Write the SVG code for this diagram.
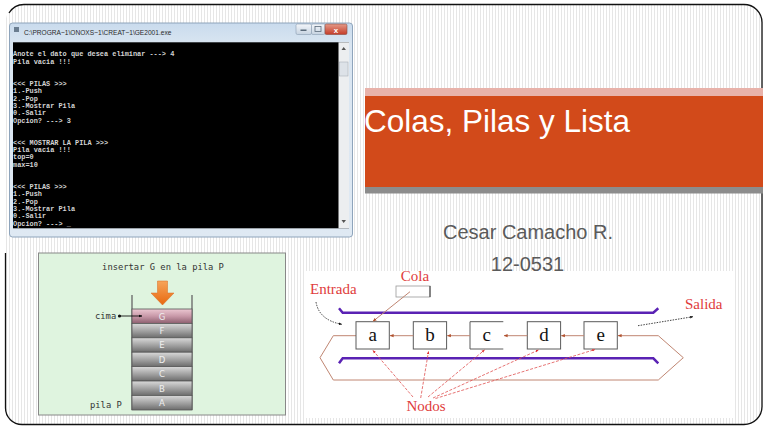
<svg xmlns="http://www.w3.org/2000/svg" width="768" height="432" viewBox="0 0 768 432">
<defs>
<pattern id="stripes" width="3" height="12" patternUnits="userSpaceOnUse"><rect width="3" height="12" fill="#ffffff"/><rect x="0" width="1" height="12" fill="#e6e6e6"/></pattern>
<linearGradient id="winFrame" x1="0" y1="0" x2="0" y2="1"><stop offset="0" stop-color="#c9dbed"/><stop offset="0.1" stop-color="#d9e5f1"/><stop offset="1" stop-color="#dfe9f3"/></linearGradient>
<linearGradient id="closeG" x1="0" y1="0" x2="0" y2="1"><stop offset="0" stop-color="#e59a88"/><stop offset="1" stop-color="#c43c28"/></linearGradient>
<linearGradient id="btnG" x1="0" y1="0" x2="0" y2="1"><stop offset="0" stop-color="#f3f6fa"/><stop offset="1" stop-color="#c6d3e1"/></linearGradient>
<linearGradient id="boxG" x1="0" y1="0" x2="0" y2="1"><stop offset="0" stop-color="#dadada"/><stop offset="0.5" stop-color="#a4a4a4"/><stop offset="1" stop-color="#6c6c6c"/></linearGradient>
<linearGradient id="boxPink" x1="0" y1="0" x2="0" y2="1"><stop offset="0" stop-color="#ecc8d2"/><stop offset="0.5" stop-color="#c898a8"/><stop offset="1" stop-color="#8e6070"/></linearGradient>
<linearGradient id="orangeG" x1="0" y1="0" x2="0" y2="1"><stop offset="0" stop-color="#f6a45a"/><stop offset="1" stop-color="#e8680f"/></linearGradient>
<marker id="mBrown" viewBox="0 0 10 10" refX="9" refY="5" markerWidth="4" markerHeight="4" orient="auto"><path d="M0,1 L10,5 L0,9 z" fill="#b0502c"/></marker>
<marker id="mRed" viewBox="0 0 10 10" refX="9" refY="5" markerWidth="4" markerHeight="4" orient="auto"><path d="M0,1 L10,5 L0,9 z" fill="#e03030"/></marker>
<marker id="mBlack" viewBox="0 0 10 10" refX="9" refY="5" markerWidth="4" markerHeight="4" orient="auto"><path d="M0,1 L10,5 L0,9 z" fill="#111"/></marker>
</defs>
<style>
.con{font-family:"Liberation Mono","DejaVu Sans Mono",monospace;font-weight:bold;font-size:6.9px;fill:#d4d4d4}
.red{font-family:"Liberation Serif",serif;font-size:15px;fill:#e03c3c}
.box{fill:#fff;stroke:#5a5a5a;stroke-width:1}
.lt{font-family:"Liberation Serif",serif;font-size:19px;fill:#111;text-anchor:middle}
.brown{stroke:#c08672;stroke-width:1;fill:none}
.nod{stroke:#e05050;stroke-width:0.8;stroke-dasharray:3 1.5;fill:none}
.purple{stroke:#5a22b4;stroke-width:2.5;fill:none}
.sl{font-family:"DejaVu Sans Mono","Liberation Mono",monospace;font-size:8.8px;fill:#333}
.sk{fill:url(#boxG);stroke:#555;stroke-width:0.8}
.skt{font-family:"DejaVu Sans",sans-serif;font-size:8.5px;fill:#efefef;text-anchor:middle}
</style>

<rect width="768" height="432" fill="#ffffff"/>
<rect x="5.5" y="4.5" width="757" height="420" rx="18" fill="url(#stripes)"/>
<path d="M5.5 253 V408 A16.5 16.5 0 0 0 22 424.5 H744 A18 18 0 0 0 762 406.5 V22.5 A18 18 0 0 0 744 4.5 H24 A18 18 0 0 0 9 13" fill="none" stroke="#111" stroke-width="1.3"/>

<g id="console">
<rect x="9.5" y="23" width="343" height="214" rx="3" fill="url(#winFrame)" stroke="#8ea4bb" stroke-width="1"/>
<rect x="14" y="27" width="5" height="5" fill="#6a7d90"/>
<text x="24" y="34.5" font-family="Liberation Sans, sans-serif" font-size="6.6" fill="#2a2a2a">C:\PROGRA~1\ONOXS~1\CREAT~1\GE2001.exe</text>
<rect x="296" y="24" width="15.5" height="10.5" rx="1.5" fill="url(#btnG)" stroke="#8a9cb0" stroke-width="0.6"/>
<rect x="300.5" y="29.5" width="6" height="1.5" fill="#5a6a7a"/>
<rect x="311.5" y="24" width="13.5" height="10.5" rx="1.5" fill="url(#btnG)" stroke="#8a9cb0" stroke-width="0.6"/>
<rect x="315" y="26.5" width="6" height="5" fill="none" stroke="#5a6a7a" stroke-width="0.8"/>
<rect x="325" y="24" width="22" height="10.5" rx="1.5" fill="url(#closeG)" stroke="#8a4a40" stroke-width="0.6"/>
<text x="336" y="32.5" font-family="Liberation Sans, sans-serif" font-size="8" font-weight="bold" fill="#fff" text-anchor="middle">x</text>
<rect x="13" y="42.3" width="336" height="186" fill="#000"/>
<rect x="338.5" y="42.3" width="10.5" height="186" fill="#eceef0"/>
<rect x="339.5" y="62" width="8.5" height="14" fill="#dde2e8" stroke="#a0a8b0" stroke-width="0.5"/>
<path d="M341.5 50 L343.7 47 L346 50 z M341.5 220 L343.7 223 L346 220 z" fill="#555"/>
<text class="con" x="13" y="56.3">Anote el dato que desea eliminar ---&gt; 4</text>
<text class="con" x="13" y="63.7">Pila vacia !!!</text>
<text class="con" x="13" y="85.7">&lt;&lt;&lt; PILAS &gt;&gt;&gt;</text>
<text class="con" x="13" y="93.1">1.-Push</text>
<text class="con" x="13" y="100.5">2.-Pop</text>
<text class="con" x="13" y="107.8">3.-Mostrar Pila</text>
<text class="con" x="13" y="115.2">0.-Salir</text>
<text class="con" x="13" y="122.5">Opcion? ---&gt; 3</text>
<text class="con" x="13" y="144.6">&lt;&lt;&lt; MOSTRAR LA PILA &gt;&gt;&gt;</text>
<text class="con" x="13" y="152">Pila vacia !!!</text>
<text class="con" x="13" y="159.3">top=0</text>
<text class="con" x="13" y="166.7">max=10</text>
<text class="con" x="13" y="188.8">&lt;&lt;&lt; PILAS &gt;&gt;&gt;</text>
<text class="con" x="13" y="196.1">1.-Push</text>
<text class="con" x="13" y="203.5">2.-Pop</text>
<text class="con" x="13" y="210.9">3.-Mostrar Pila</text>
<text class="con" x="13" y="218.2">0.-Salir</text>
<text class="con" x="13" y="225.6">Opcion? ---&gt; _</text>
</g>

<g id="title">
<rect x="365" y="88" width="398" height="8" fill="#e8b2aa"/>
<rect x="365" y="96" width="398" height="91" fill="#d24a1a"/>
<rect x="365" y="187" width="398" height="6.5" fill="#8c8c8c"/>
<text x="364" y="132" font-family="Liberation Sans, Arial, sans-serif" font-size="31.5" fill="#ffffff">Colas, Pilas y Lista</text>
</g>

<g id="subtitle">
<text x="528" y="239" font-family="Liberation Sans, Arial, sans-serif" font-size="20" fill="#5a5a5a" text-anchor="middle">Cesar Camacho R.</text>
<text x="527.5" y="271" font-family="Liberation Sans, Arial, sans-serif" font-size="20" fill="#5a5a5a" text-anchor="middle">12-0531</text>
</g>

<g id="stack">
<rect x="38.5" y="253" width="247" height="162" fill="#dff4df" stroke="#888" stroke-width="1"/>
<text class="sl" x="163" y="270" text-anchor="middle">insertar G en la pila P</text>
<path d="M157.5 281 H167.5 V293 H174 L162.5 305 L151 293 H157.5 z" fill="url(#orangeG)" stroke="#d86a20" stroke-width="0.5"/>
<path d="M132 295 V410 M192 295 V410" stroke="#666" stroke-width="1.3" fill="none"/>
<rect x="132" y="309" width="60" height="14.4" fill="url(#boxPink)" stroke="#555" stroke-width="0.8"/>
<rect class="sk" x="132" y="323.4" width="60" height="14.4"/>
<rect class="sk" x="132" y="337.8" width="60" height="14.4"/>
<rect class="sk" x="132" y="352.2" width="60" height="14.4"/>
<rect class="sk" x="132" y="366.6" width="60" height="14.4"/>
<rect class="sk" x="132" y="381" width="60" height="14.4"/>
<rect class="sk" x="132" y="395.4" width="60" height="14.6"/>
<text class="skt" x="162" y="319.5">G</text>
<text class="skt" x="162" y="334">F</text>
<text class="skt" x="162" y="348.4">E</text>
<text class="skt" x="162" y="362.8">D</text>
<text class="skt" x="162" y="377.2">C</text>
<text class="skt" x="162" y="391.6">B</text>
<text class="skt" x="162" y="406">A</text>
<text class="sl" x="95" y="319">cima</text>
<circle cx="119.5" cy="316" r="1.6" fill="#111"/>
<line x1="119.5" y1="316" x2="142" y2="316" stroke="#111" stroke-width="0.9" marker-end="url(#mBlack)"/>
<text class="sl" x="90" y="408">pila P</text>
</g>

<g id="queue">
<rect x="304" y="271" width="430" height="147" fill="#ffffff"/>
<text class="red" x="415" y="281" text-anchor="middle">Cola</text>
<rect x="396" y="286" width="34" height="11" fill="#fff" stroke="#999" stroke-width="0.8"/>
<line x1="430" y1="286" x2="430" y2="297" stroke="#333" stroke-width="1"/>
<text class="red" x="310" y="294">Entrada</text>
<text class="red" x="685" y="309">Salida</text>
<text class="red" x="426" y="410.5" text-anchor="middle">Nodos</text>
<path class="purple" d="M339 308.3 L342.7 312.7 H653.3 L658.3 308.3"/>
<path class="purple" d="M339 363.3 L342.7 358.3 H653.3 L658.3 363.3"/>
<path class="brown" d="M356 335.7 H333.3 L320 357.7 L333.3 380 H658.3 L683.3 357.7 L658.3 335.7"/>
<g id="node-a"><rect class="box" x="356" y="321.7" width="33.3" height="27.3"/><text class="lt" x="372.7" y="341">a</text></g>
<g id="node-b"><rect class="box" x="413.3" y="321.7" width="33.3" height="27.3"/><text class="lt" x="430" y="341">b</text></g>
<g id="node-c"><path d="M503.3 321.7 H470 V349 H503.3" fill="#fff" stroke="#5a5a5a" stroke-width="1"/><text class="lt" x="486.7" y="341">c</text></g>
<g id="node-d"><rect class="box" x="527.3" y="321.7" width="33.3" height="27.3"/><text class="lt" x="544" y="341">d</text></g>
<g id="node-e"><rect class="box" x="584" y="321.7" width="33.3" height="27.3"/><text class="lt" x="600.7" y="341">e</text></g>
<g id="connectors">
<line class="brown" x1="413.3" y1="335.7" x2="390" y2="335.7" marker-end="url(#mBrown)"/>
<line class="brown" x1="470" y1="335.7" x2="447.3" y2="335.7" marker-end="url(#mBrown)"/>
<line class="brown" x1="527.3" y1="335.7" x2="504" y2="335.7" marker-end="url(#mBrown)"/>
<line class="brown" x1="584" y1="335.7" x2="561.3" y2="335.7" marker-end="url(#mBrown)"/>
<line class="brown" x1="658.3" y1="335.7" x2="618" y2="335.7" marker-end="url(#mBrown)"/>
<line class="brown" x1="410" y1="291.7" x2="373" y2="321.3" marker-end="url(#mBrown)"/>
<path d="M316 302 Q319 320 341.7 324.3" fill="none" stroke="#111" stroke-width="0.8" stroke-dasharray="1.5 1.2" marker-end="url(#mBlack)"/>
<line x1="638" y1="325.7" x2="693" y2="316.7" stroke="#111" stroke-width="0.8" stroke-dasharray="1.5 1.2" marker-end="url(#mBlack)"/>
<line class="nod" x1="413" y1="397" x2="373" y2="350.5" marker-end="url(#mRed)"/>
<line class="nod" x1="420.7" y1="398" x2="428.5" y2="351.5" marker-end="url(#mRed)"/>
<line class="nod" x1="428" y1="397" x2="484.5" y2="350" marker-end="url(#mRed)"/>
<line class="nod" x1="433" y1="398" x2="538.5" y2="350" marker-end="url(#mRed)"/>
<line class="nod" x1="435.5" y1="398.5" x2="595" y2="349.5" marker-end="url(#mRed)"/>
</g>
</g>
</svg>
